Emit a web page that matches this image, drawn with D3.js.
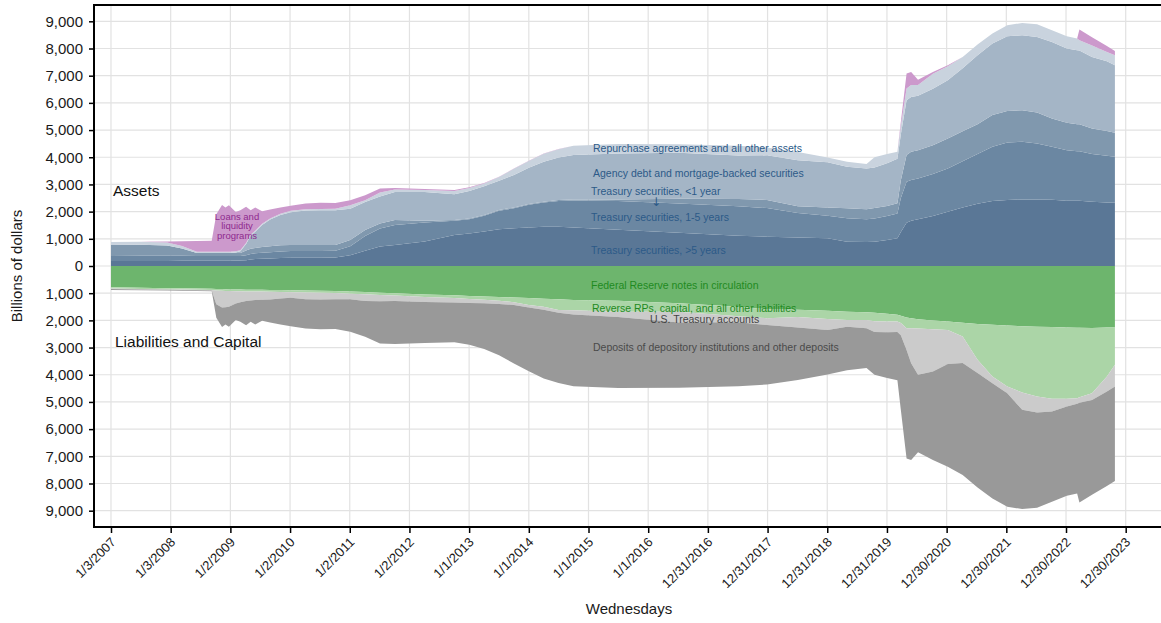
<!DOCTYPE html>
<html>
<head>
<meta charset="utf-8">
<script src="https://cdn.jsdelivr.net/npm/d3@7"></script>
<style>
  body { margin: 0; background: #fff; }
  svg { display: block; font-family: "Liberation Sans", Arial, Helvetica, sans-serif; }
</style>
</head>
<body>
<svg id="chart" width="1161" height="623"></svg>
<script>
// Federal Reserve balance sheet, billions of dollars, selected Wednesdays
const weeks = [
  "2007-01-03","2007-07-04","2007-12-12","2008-03-12","2008-06-11","2008-09-10",
  "2008-10-08","2008-11-12","2008-12-03","2008-12-24","2009-02-04","2009-03-04",
  "2009-04-08","2009-05-06","2009-06-03","2009-07-15","2009-09-02","2009-11-04",
  "2010-01-06","2010-04-07","2010-07-07","2010-10-06","2011-01-05","2011-04-06",
  "2011-07-06","2011-10-05","2012-04-04","2012-10-03","2013-01-02","2013-04-03",
  "2013-07-03","2013-10-02","2014-01-01","2014-04-02","2014-07-02","2014-10-01",
  "2015-07-01","2016-07-06","2017-07-05","2017-12-27","2018-07-04","2019-01-02",
  "2019-05-01","2019-08-28","2019-10-16","2020-01-01","2020-03-04","2020-03-25",
  "2020-04-29","2020-05-27","2020-07-08","2020-10-07","2021-01-06","2021-04-07",
  "2021-07-07","2021-10-06","2022-01-05","2022-04-06","2022-07-06","2022-10-05",
  "2023-01-04","2023-03-08","2023-03-22","2023-06-07","2023-09-06","2023-10-25"
];

// Assets
const tsyOver5 = [
  180,185,185,190,195,195, 195,195,195,195,200,200,
  215,240,255,270,280,290, 300,300,300,310,400,560,
  720,770,900,1140,1200,1270, 1350,1385,1420,1445,1445,1420,
  1330,1220,1110,1080,1050,1020, 895,880,890,955,1020,1250,
  1590,1665,1715,1840,1995,2155, 2290,2390,2425,2450,2450,2435,
  2400,2400,2400,2365,2340,2325
];
const tsy1to5 = [
  190,190,190,185,175,175, 175,175,175,175,170,170,
  185,200,210,220,230,240, 250,250,250,250,330,540,
  660,735,700,520,520,580, 680,740,830,890,950,990,
  1060,1080,1090,1050,900,830, 860,835,860,880,915,1250,
  1510,1495,1505,1540,1595,1700, 1825,1995,2120,2120,2060,1950,
  1860,1825,1825,1750,1715,1690
];
const tsyUnder1 = [
  400,405,375,265,110,110, 110,110,110,110,110,110,
  170,190,200,210,220,230, 220,220,220,215,225,220,
  180,185,60,30,30,30, 30,30,30,30,30,40,
  60,170,260,300,250,305, 365,370,380,370,370,650,
  980,1040,1040,1065,1100,1100, 1100,1165,1160,1160,1140,1040,
  1005,990,990,945,915,885
];
const agencyMbs = [
  0,0,0,0,0,0, 0,0,0,0,20,60,
  240,480,595,810,980,1120, 1210,1270,1280,1280,1150,1030,
  1000,1030,1060,950,1010,1050, 1080,1190,1335,1470,1570,1630,
  1690,1700,1600,1640,1690,1665, 1530,1505,1490,1570,1640,1700,
  2020,2020,2000,2070,2140,2315, 2540,2630,2745,2760,2770,2815,
  2735,2720,2715,2630,2560,2485
];
const repoOther = [
  110,110,110,100,40,40, 40,40,40,40,40,40,
  40,40,40,40,40,40, 50,50,50,55,125,70,
  140,95,80,120,110,100, 130,235,245,295,300,340,
  350,310,360,290,300,170, 185,160,380,340,255,300,
  430,440,400,560,520,420, 390,370,405,450,470,430,
  450,430,370,420,345,365
];
const loansLiquidity = [
  0,0,40,170,400,410, 1380,1720,1630,1710,1450,1470,
  1330,900,850,460,330,230, 190,210,230,210,190,180,
  150,55,30,40,30,20, 10,10,10,10,5,0,
  0,0,0,0,0,0, 0,0,0,0,0,150,
  550,480,190,60,35,0, 0,0,0,0,0,0,
  0,0,395,305,220,160
];

// Liabilities and capital
const notesInCirculation = [
  785,800,815,820,830,835, 845,850,855,860,860,865,
  870,870,870,875,880,885, 890,900,910,920,940,960,
  980,1000,1050,1080,1100,1120, 1140,1160,1180,1200,1225,1250,
  1280,1370,1500,1590,1610,1650, 1680,1700,1720,1760,1790,1830,
  1890,1920,1960,2000,2045,2090, 2130,2160,2190,2215,2230,2240,
  2265,2270,2270,2280,2265,2265
];
const reverseRpsOther = [
  45,45,45,45,45,45, 60,60,60,60,65,65,
  65,65,65,65,70,70, 75,75,75,75,80,80,
  85,85,90,100,110,120, 140,170,250,300,390,380,
  400,310,350,330,270,300, 305,290,310,280,255,270,
  400,370,340,330,305,500, 1320,1900,2240,2435,2570,2645,
  2620,2590,2560,2400,1800,1370
];
const treasuryAccounts = [
  15,15,15,15,15,20, 500,615,600,580,450,400,
  350,330,320,300,280,240, 200,250,250,230,200,250,
  230,200,180,160,150,130, 120,100,100,110,100,150,
  200,400,220,250,380,400, 250,300,400,400,380,450,
  800,1290,1700,1550,1250,980, 490,250,250,640,590,470,
  285,210,200,250,550,800
];
const depositsOther = [
  35,30,25,30,30,30, 495,715,635,730,615,720,
  895,785,895,770,850,955, 1055,1075,1095,1095,1200,1310,
  1555,1585,1510,1460,1540,1680, 1880,2160,2340,2530,2585,2640,
  2610,2400,2350,2190,1930,1640, 1600,1460,1570,1675,1775,2750,
  3990,3560,2850,3255,3785,4120, 4205,4240,4175,3650,3500,3315,
  3280,3295,3665,3485,3480,3475
];

// Axis tick labels
const xTickLabels = [
  "1/3/2007","1/3/2008","1/2/2009","1/2/2010","1/2/2011","1/2/2012",
  "1/1/2013","1/1/2014","1/1/2015","1/1/2016","12/31/2016","12/31/2017",
  "12/31/2018","12/31/2019","12/30/2020","12/30/2021","12/30/2022","12/30/2023"
];
const yTickValues = [9000,8000,7000,6000,5000,4000,3000,2000,1000,0,
  -1000,-2000,-3000,-4000,-5000,-6000,-7000,-8000,-9000];

// ---- layout ----
const frame = { left: 94, right: 1161, top: 5, bottom: 527 };
const parseDay = d3.timeParse("%Y-%m-%d");
const parseTick = d3.timeParse("%m/%d/%Y");
const tickDates = xTickLabels.map(parseTick);

const rows = weeks.map((w, i) => ({
  date: parseDay(w),
  tsyOver5: tsyOver5[i], tsy1to5: tsy1to5[i], tsyUnder1: tsyUnder1[i],
  agencyMbs: agencyMbs[i], repoOther: repoOther[i], loansLiquidity: loansLiquidity[i],
  notesInCirculation: notesInCirculation[i], reverseRpsOther: reverseRpsOther[i],
  treasuryAccounts: treasuryAccounts[i], depositsOther: depositsOther[i]
}));

const assetKeys = ["tsyOver5","tsy1to5","tsyUnder1","agencyMbs","repoOther","loansLiquidity"];
const assetColors = ["#5a7796","#6b87a2","#8098ae","#a4b5c6","#c9d3de","#cc99cc"];
const liabKeys = ["notesInCirculation","reverseRpsOther","treasuryAccounts","depositsOther"];
const liabColors = ["#6db56d","#abd5a7","#cbcbcb","#999999"];

const x = d3.scaleTime()
  .domain([tickDates[0], tickDates[tickDates.length - 1]])
  .range([111, 1125.7]);
const y = d3.scaleLinear().domain([-9600, 9600]).range([frame.bottom, frame.top]);

const svg = d3.select("#chart");

// gridlines
const grid = svg.append("g").attr("stroke", "#e2e2e2").attr("stroke-width", 1.2);
grid.selectAll("line.v").data(tickDates).join("line")
  .attr("x1", d => x(d)).attr("x2", d => x(d))
  .attr("y1", frame.top).attr("y2", frame.bottom);
grid.selectAll("line.h").data(yTickValues).join("line")
  .attr("x1", frame.left).attr("x2", frame.right)
  .attr("y1", d => y(d)).attr("y2", d => y(d));

// stacked areas
const assetSeries = d3.stack().keys(assetKeys)(rows);
const liabSeries = d3.stack().keys(liabKeys)(rows);

const assetArea = d3.area()
  .x(d => x(d.data.date)).y0(d => y(d[0])).y1(d => y(d[1]));
const liabArea = d3.area()
  .x(d => x(d.data.date)).y0(d => y(-d[0])).y1(d => y(-d[1]));

svg.append("g").selectAll("path").data(assetSeries).join("path")
  .attr("d", assetArea).attr("fill", (d, i) => assetColors[i]);
svg.append("g").selectAll("path").data(liabSeries).join("path")
  .attr("d", liabArea).attr("fill", (d, i) => liabColors[i]);

// axes
const fmt = d3.format(",");
const yAxis = svg.append("g")
  .attr("transform", `translate(${frame.left},0)`)
  .call(d3.axisLeft(y).tickValues(yTickValues).tickFormat(v => fmt(Math.abs(v)))
    .tickSize(5).tickPadding(6));
yAxis.select(".domain").remove();
yAxis.selectAll("line").attr("stroke", "#000").attr("stroke-width", 1.5);
yAxis.selectAll("text").attr("font-size", 15).attr("fill", "#1a1a1a")
  .attr("font-family", "Liberation Sans, Arial, sans-serif");

const xAxis = svg.append("g")
  .attr("transform", `translate(0,${frame.bottom})`)
  .call(d3.axisBottom(x).tickValues(tickDates).tickFormat(d3.timeFormat("%-m/%-d/%Y"))
    .tickSize(6));
xAxis.select(".domain").remove();
xAxis.selectAll("line").attr("stroke", "#000").attr("stroke-width", 1.5);
xAxis.selectAll("text")
  .attr("font-size", 13).attr("fill", "#1a1a1a")
  .attr("font-family", "Liberation Sans, Arial, sans-serif")
  .attr("x", 0).attr("y", 0).attr("dy", 0)
  .attr("text-anchor", "end")
  .attr("transform", "translate(5,16) rotate(-45)");

// frame
const fr = svg.append("g").attr("stroke", "#000").attr("stroke-width", 2).attr("fill", "none");
fr.append("line").attr("x1", frame.left).attr("x2", frame.left).attr("y1", frame.top - 1).attr("y2", frame.bottom + 1);
fr.append("line").attr("x1", frame.left).attr("x2", frame.right).attr("y1", frame.top).attr("y2", frame.top);
fr.append("line").attr("x1", frame.left).attr("x2", frame.right).attr("y1", frame.bottom).attr("y2", frame.bottom);

// axis titles
svg.append("text").attr("x", 629).attr("y", 614).attr("text-anchor", "middle")
  .attr("font-size", 15).attr("fill", "#1a1a1a").text("Wednesdays");
svg.append("text").attr("transform", "translate(22,266) rotate(-90)").attr("text-anchor", "middle")
  .attr("font-size", 15).attr("fill", "#1a1a1a").text("Billions of dollars");

// section titles
svg.append("text").attr("x", 113).attr("y", 196).attr("font-size", 15.5).attr("fill", "#111").text("Assets");
svg.append("text").attr("x", 115).attr("y", 347).attr("font-size", 15.5).attr("fill", "#111").text("Liabilities and Capital");

// series labels
const seriesLabels = [
  { text: "Repurchase agreements and all other assets", x: 593, y: 152, color: "#2c5a88" },
  { text: "Agency debt and mortgage-backed securities", x: 593, y: 177, color: "#2c5a88" },
  { text: "Treasury securities, <1 year", x: 591, y: 195, color: "#2c5a88" },
  { text: "↓", x: 656, y: 206, color: "#2c5a88", anchor: "middle", size: 12, family: "DejaVu Sans, sans-serif" },
  { text: "Treasury securities, 1-5 years", x: 591, y: 221, color: "#2c5a88" },
  { text: "Treasury securities, >5 years", x: 591, y: 254, color: "#2c5a88" },
  { text: "Federal Reserve notes in circulation", x: 591, y: 289, color: "#1f8a1f" },
  { text: "Reverse RPs, capital, and all other liabilities", x: 592, y: 312, color: "#1f8a1f" },
  { text: "U.S. Treasury accounts", x: 650, y: 323, color: "#444444" },
  { text: "Deposits of depository institutions and other deposits", x: 593, y: 351, color: "#4a4a4a" }
];
svg.append("g").selectAll("text").data(seriesLabels).join("text")
  .attr("x", d => d.x).attr("y", d => d.y)
  .attr("text-anchor", d => d.anchor || "start")
  .attr("font-size", d => d.size || 10.5)
  .attr("font-family", d => d.family || null)
  .attr("fill", d => d.color)
  .text(d => d.text);

const loanLines = ["Loans and", "liquidity", "programs"];
svg.append("g").selectAll("text").data(loanLines).join("text")
  .attr("x", 237).attr("y", (d, i) => 220 + i * 9.3)
  .attr("text-anchor", "middle").attr("font-size", 9.5).attr("fill", "#8e2a8e")
  .text(d => d);
</script>
</body>
</html>
